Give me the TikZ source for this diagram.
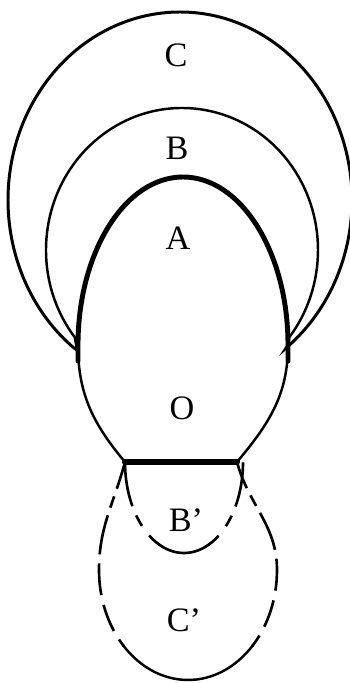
\documentclass[tikz,border=0pt]{standalone}
\usepackage{fontspec}
\setmainfont{Liberation Serif}
\begin{document}
\begin{tikzpicture}[x=0.02cm, y=0.02cm,
  ringC/.style={line width=1.7pt},
  ringB/.style={line width=1.4pt},
  domeline/.style={line width=2.8pt, line join=round, line cap=round},
  bodyline/.style={line width=1.4pt},
  baseline/.style={line width=3.4pt, line cap=round},
  dashB/.style={line width=1.5pt, dash pattern=on 0.9cm off 0.2cm on 0.24cm off 0.24cm on 1.6cm off 0.24cm on 0.24cm off 0.2cm on 0.9cm off 0.2cm},
  dashC/.style={line width=1.5pt, dash pattern=on 0.56cm off 0.16cm on 0.24cm off 0.16cm on 0.8cm off 0.18cm on 0.64cm off 0.2cm on 0.56cm off 0.2cm},
  lbl/.style={font=\fontsize{19.5}{22}\selectfont, inner sep=0pt}]
\useasboundingbox (0,0) rectangle (350,683);

\coordinate (tailL) at (77,333);
\coordinate (tailR) at (288,338);
\coordinate (baseL) at (125,221);
\coordinate (baseR) at (237,221);
\coordinate (sideL) at (78,338);
\coordinate (sideR) at (288,338);
\coordinate (waistL) at (99,113);
\coordinate (waistR) at (277,113);

% outer rings
\draw[ringC] (tailL) -- ([shift={(180,483)}]231.9:172 and 188)
  arc[start angle=231.9, end angle=-51.9, x radius=172, y radius=188] -- (tailR);
\draw[ringB] (tailL) -- ([shift={(182,433)}]218:136 and 142)
  arc[start angle=218, end angle=-38, x radius=136, y radius=142] -- (tailR);

% A and O
\draw[domeline] (78,322) -- (sideL)
  arc[start angle=180, end angle=0, x radius=105, y radius=168] -- (288,322);
\draw[bodyline] (sideL) to[out=-90, in=130] (baseL);
\draw[bodyline] (baseR) to[out=50, in=-90] (sideR);
\draw[baseline] (baseL) -- (baseR);

% B' and C'
\draw[dashB] (baseL) arc[start angle=180, end angle=360, x radius=59, y radius=91];
\draw[dashC] (baseL) to[out=-105, in=90] (waistL)
  arc[start angle=180, end angle=224, x radius=89, y radius=110];
\draw[dashC] (baseR) to[out=-75, in=90] (waistR)
  arc[start angle=0, end angle=-44, x radius=89, y radius=110];
\draw[bodyline] ([shift={(188,113)}]223:89 and 110)
  arc[start angle=223, end angle=317, x radius=89, y radius=110];

\node[lbl] (labelC) at (176,628) {C};
\node[lbl] (labelB) at (177,535) {B};
\node[lbl] (labelA) at (178,445) {A};
\node[lbl] (labelO) at (182,275) {O};
\node[lbl] (labelBp) at (186,163) {B’};
\node[lbl] (labelCp) at (184,63) {C’};
\end{tikzpicture}
\end{document}
